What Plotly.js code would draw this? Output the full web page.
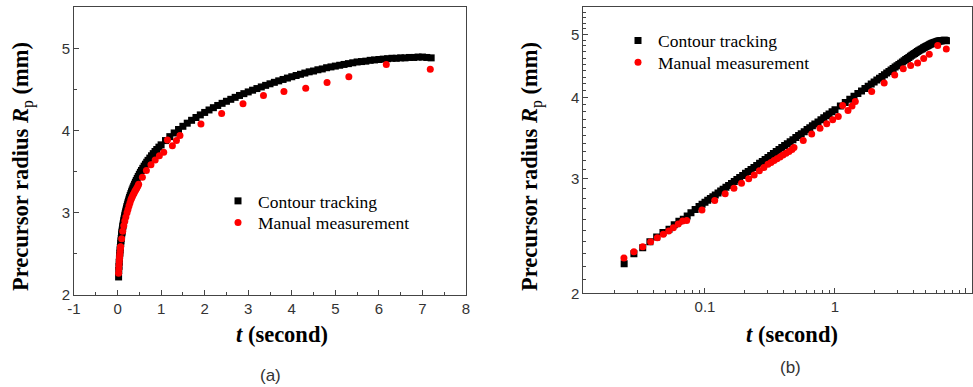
<!DOCTYPE html>
<html>
<head>
<meta charset="utf-8">
<script src="https://cdn.plot.ly/plotly-3.0.1.min.js"></script>
<style>html,body{margin:0;padding:0;background:#fff;} #chart{width:973px;height:387px;}</style>
</head>
<body>
<div id="chart"></div>
<script>
// Contour tracking: time (s) and precursor radius (mm)
const contourT = [0.0239,0.0284,0.0332,0.0377,0.0425,0.0475,0.0529,0.058,0.063,0.0681,0.073,0.078,0.084,0.09,0.095,0.1,
0.105,0.11,0.115,0.12,0.126,0.132,0.138,0.145,0.152,0.16,0.168,0.176,0.185,0.195,0.205,0.215,0.226,0.238,0.25,0.263,0.276,0.29,0.305,0.32,0.336,0.353,0.371,0.39,0.41,0.43,0.452,0.475,0.5,0.525,0.55,0.58,0.61,0.64,0.67,0.7,0.74,0.78,0.82,0.86,0.9,0.95,1.0,
1.1,1.2,1.3,1.4,1.5,1.6,1.7,1.8,1.9,2.0,2.1,2.2,2.3,2.4,2.5,2.6,2.7,2.8,2.9,3.0,3.1,3.2,3.3,3.4,3.5,3.6,3.7,3.8,3.9,4.0,
4.1,4.2,4.3,4.4,4.5,4.6,4.7,4.8,4.9,5.0,5.1,5.2,5.3,5.4,5.5,5.6,5.7,5.8,5.9,6.0,6.1,6.2,6.3,6.4,6.5,6.6,6.7,6.8,6.9,7.0,7.1,7.2];
const contourR = [2.22,2.30,2.35,2.40,2.44,2.48,2.51,2.55,2.58,2.60,2.63,2.66,2.69,2.72,2.74,2.76,
2.779,2.797,2.815,2.833,2.852,2.872,2.89,2.911,2.93,2.951,2.972,2.991,3.013,3.036,3.058,3.078,3.10,3.123,3.145,3.168,3.189,3.212,3.235,3.258,3.28,3.303,3.326,3.35,3.374,3.396,3.421,3.445,3.471,3.495,3.518,3.544,3.57,3.594,3.618,3.641,3.669,3.697,3.723,3.749,3.773,3.802,3.83,
3.882,3.93,3.975,4.017,4.056,4.094,4.129,4.163,4.195,4.225,4.255,4.283,4.31,4.336,4.361,4.385,4.409,4.432,4.454,4.475,4.496,4.516,4.536,4.555,4.574,4.592,4.61,4.627,4.644,4.66,
4.675,4.69,4.705,4.72,4.73,4.745,4.755,4.77,4.78,4.79,4.80,4.81,4.82,4.83,4.84,4.845,4.85,4.86,4.865,4.87,4.875,4.88,4.885,4.885,4.89,4.89,4.895,4.895,4.90,4.90,4.895,4.89];

// Manual measurement
const manualT = [0.0238,0.0284,0.0332,0.0382,0.043,0.0478,0.0526,0.0571,0.0623,0.0674,0.0723,0.0948,0.1188,0.143,0.167,0.191,0.217,0.239,0.262,0.284,
0.305,0.322,0.34,0.358,0.378,0.398,0.42,0.443,0.467,0.484,0.57,0.662,0.767,0.864,0.96,1.06,1.146,1.259,1.352,1.433,1.915,2.39,2.88,3.35,3.82,4.32,4.81,5.31,6.17,7.18];
const manualR = [2.266,2.317,2.359,2.401,2.435,2.465,2.494,2.523,2.557,2.584,2.587,2.686,2.777,2.844,2.901,2.952,3.001,3.041,3.085,3.121,
3.159,3.178,3.2,3.221,3.241,3.263,3.284,3.305,3.327,3.35,3.434,3.516,3.588,3.644,3.696,3.74,3.889,3.82,3.882,3.943,4.085,4.212,4.33,4.43,4.48,4.52,4.59,4.66,4.81,4.75];

// Tick labels
const xTicksA = [-1,0,1,2,3,4,5,6,7,8];
const xTickTextA = ['-1','0','1','2','3','4','5','6','7','8'];
const yTicks = [2,3,4,5];
const yTickText = ['2','3','4','5'];
const xTicksB = [0.1,1,10];
const xTickTextB = ['0.1','1','10'];

const W = 973, H = 387;
const px = v => v / W, py = v => 1 - v / H;

const serif = "Liberation Serif, Times New Roman, serif";
const sans = "Liberation Sans, Arial, sans-serif";

const blackMarker = {symbol: 'square', size: 7, color: '#000'};
const redMarker = {symbol: 'circle', size: 7, color: '#ff0000'};

const traces = [
  {x: contourT, y: contourR, type: 'scatter', mode: 'markers', name: 'Contour tracking', marker: blackMarker, xaxis: 'x', yaxis: 'y', legend: 'legend'},
  {x: manualT, y: manualR, type: 'scatter', mode: 'markers', name: 'Manual measurement', marker: redMarker, xaxis: 'x', yaxis: 'y', legend: 'legend2'},
  {x: contourT, y: contourR, type: 'scatter', mode: 'markers', name: 'Contour tracking', marker: blackMarker, xaxis: 'x2', yaxis: 'y2', legend: 'legend3'},
  {x: manualT, y: manualR, type: 'scatter', mode: 'markers', name: 'Manual measurement', marker: redMarker, xaxis: 'x2', yaxis: 'y2', legend: 'legend4'}
];

const axisBase = {
  showline: true, linecolor: '#444', linewidth: 1, mirror: true,
  ticks: 'inside', ticklen: 5, tickwidth: 1, tickcolor: '#444',
  showgrid: false, zeroline: false,
  tickfont: {family: sans, size: 15, color: '#333'}
};

const log10 = Math.log10;
const minorX2 = [0.02,0.03,0.04,0.05,0.06,0.07,0.08,0.09,0.2,0.3,0.4,0.5,0.6,0.7,0.8,0.9,2,3,4,5,6,7,8,9];
const minorY2 = [2.1,2.2,2.3,2.4,2.5,2.6,2.7,2.8,2.9,3.1,3.2,3.3,3.4,3.5,3.6,3.7,3.8,3.9,4.1,4.2,4.3,4.4,4.5,4.6,4.7,4.8,4.9,5.1,5.2,5.3,5.4,5.5];

function legendAt(xPix, yPix) {
  return {
    x: px(xPix), y: py(yPix), xanchor: 'left', yanchor: 'middle',
    bgcolor: 'rgba(0,0,0,0)', borderwidth: 0,
    font: {family: serif, size: 17.5, color: '#000'}
  };
}

const layout = {
  width: W, height: H,
  paper_bgcolor: '#fff', plot_bgcolor: '#fff',
  margin: {l: 0, r: 0, t: 0, b: 0},
  showlegend: true,
  xaxis: Object.assign({}, axisBase, {
    domain: [px(74), px(466)], range: [-1, 8], anchor: 'y',
    tickmode: 'array', tickvals: xTicksA, ticktext: xTickTextA,
    minor: {dtick: 0.5, tick0: 0, ticks: 'inside', ticklen: 3, tickcolor: '#444'}
  }),
  yaxis: Object.assign({}, axisBase, {
    domain: [1 - 295 / H, 1 - 7 / H], range: [2, 5.51], anchor: 'x',
    tickmode: 'array', tickvals: yTicks, ticktext: yTickText,
    minor: {dtick: 0.5, tick0: 2, ticks: 'inside', ticklen: 3, tickcolor: '#444'}
  }),
  xaxis2: Object.assign({}, axisBase, {
    domain: [px(583.3), px(971.7)], type: 'log', range: [log10(0.01159), log10(11.26)], anchor: 'y2',
    tickmode: 'array', tickvals: xTicksB, ticktext: xTickTextB,
    minor: {tickmode: 'array', tickvals: minorX2, ticks: 'inside', ticklen: 3, tickcolor: '#444'}
  }),
  yaxis2: Object.assign({}, axisBase, {
    domain: [1 - 293.3 / H, 1 - 7 / H], type: 'log', range: [log10(2), log10(5.51)], anchor: 'x2',
    tickmode: 'array', tickvals: yTicks, ticktext: yTickText,
    minor: {tickmode: 'array', tickvals: minorY2, ticks: 'inside', ticklen: 3, tickcolor: '#444'}
  }),
  legend: legendAt(218, 201),
  legend2: legendAt(218, 222.7),
  legend3: legendAt(618, 40.7),
  legend4: legendAt(618, 62.3),
  annotations: [
    {text: '<b>Precursor radius <i>R</i></b><sub>p</sub><b> (mm)</b>', textangle: -90, xref: 'paper', yref: 'paper',
     x: px(22), y: py(167), xanchor: 'center', yanchor: 'middle', showarrow: false,
     font: {family: serif, size: 22.5, color: '#000'}},
    {text: '<b>Precursor radius <i>R</i></b><sub>p</sub><b> (mm)</b>', textangle: -90, xref: 'paper', yref: 'paper',
     x: px(531), y: py(167), xanchor: 'center', yanchor: 'middle', showarrow: false,
     font: {family: serif, size: 22.5, color: '#000'}},
    {text: '<b><i>t</i> (second)</b>', xref: 'paper', yref: 'paper',
     x: px(282), y: py(334), xanchor: 'center', yanchor: 'middle', showarrow: false,
     font: {family: serif, size: 22.5, color: '#000'}},
    {text: '<b><i>t</i> (second)</b>', xref: 'paper', yref: 'paper',
     x: px(792), y: py(334), xanchor: 'center', yanchor: 'middle', showarrow: false,
     font: {family: serif, size: 22.5, color: '#000'}},
    {text: '(a)', xref: 'paper', yref: 'paper', x: px(270), y: py(375), xanchor: 'center', yanchor: 'middle',
     showarrow: false, font: {family: sans, size: 17, color: '#333'}},
    {text: '(b)', xref: 'paper', yref: 'paper', x: px(790), y: py(367), xanchor: 'center', yanchor: 'middle',
     showarrow: false, font: {family: sans, size: 17, color: '#333'}}
  ]
};

Plotly.newPlot('chart', traces, layout, {displayModeBar: false, staticPlot: true});
</script>
</body>
</html>
